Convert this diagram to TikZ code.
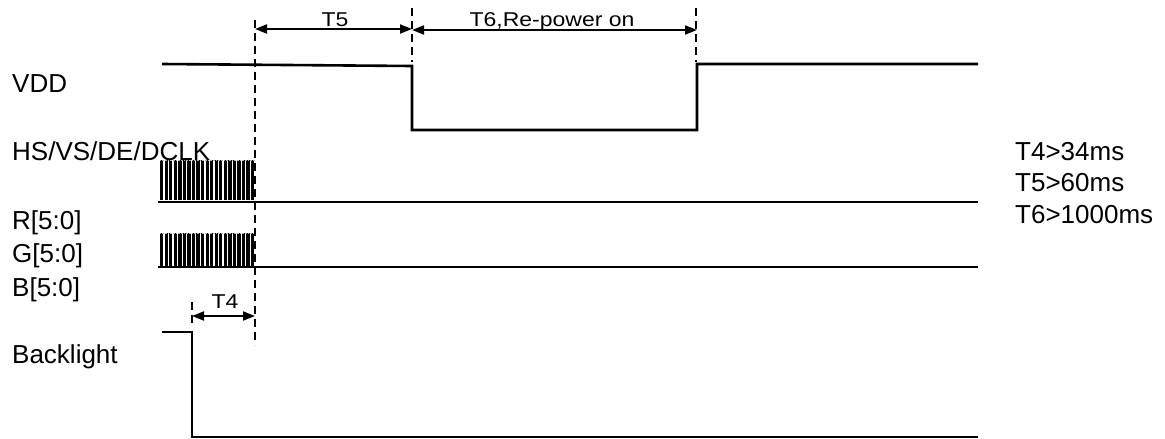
\documentclass[tikz,border=0pt]{standalone}
\usepackage{fontspec}
\setmainfont{Liberation Sans}
\usetikzlibrary{arrows.meta}
\begin{document}
\begin{tikzpicture}[x=1pt,y=-1pt,
  sig/.style={line width=2.6pt, line join=miter},
  guide/.style={line width=1.5pt, dash pattern=on 8pt off 5pt},
  dim/.style={line width=1.8pt, {Triangle[length=12pt,width=9pt]}-{Triangle[length=12pt,width=9pt]}},
  lbl/.style={anchor=base west, inner sep=0pt, font=\fontsize{26}{30}\selectfont},
  tlbl/.style={anchor=base, inner sep=0pt, font=\fontsize{20}{24}\selectfont, xscale=1.15},
  stripe/.style={fill=black, draw=none}]
\useasboundingbox (0,0) rectangle (1165,439);

% labels
\node[lbl] (vdd) at (12,92) {VDD};
\node[lbl] (hs) at (12,160) {HS/VS/DE/DCLK};
\node[lbl] (r) at (12,229) {R[5:0]};
\node[lbl] (g) at (12,262) {G[5:0]};
\node[lbl] (b) at (12,296) {B[5:0]};
\node[lbl] (bl) at (12,363) {Backlight};
\node[lbl] (c4) at (1015,160) {T4>34ms};
\node[lbl] (c5) at (1015,191) {T5>60ms};
\node[lbl] (c6) at (1015,223) {T6>1000ms};

% striped blocks
\foreach \i in {0,...,20} {
  \fill[stripe] (160+\i*4.55,160) rectangle ++(3.3,40);
  \fill[stripe] (160+\i*4.55,233) rectangle ++(3.3,34);
}
\draw[gray!60, line width=0.6pt, densely dotted] (160,160) -- (255,160);
\draw[gray!60, line width=0.6pt, densely dotted] (160,233) -- (255,233);

% signals
\draw[sig] (162,64) -- (412,66) -- (412,130) -- (697,130) -- (697,64) -- (978,64);
\draw[sig] (158,202) -- (978,202);
\draw[sig] (158,267) -- (978,267);
\draw[sig] (162,332) -- (192,332) -- (192,437) -- (978,437);

% guide lines
\coordinate (g1t) at (255,20);  \coordinate (g1b) at (255,345);
\coordinate (g2t) at (412,8);   \coordinate (g2b) at (412,62);
\coordinate (g3t) at (696,8);   \coordinate (g3b) at (696,62);
\coordinate (g4t) at (192,302); \coordinate (g4b) at (192,326);
\draw[guide] (g1t) -- (g1b);
\draw[guide] (g2t) -- (g2b);
\draw[guide] (g3t) -- (g3b);
\draw[guide] (g4t) -- (g4b);

% dimension arrows
\coordinate (a5l) at (255,29); \coordinate (a5r) at (412,29);
\coordinate (a6l) at (412,30); \coordinate (a6r) at (697,30);
\coordinate (a4l) at (192,316); \coordinate (a4r) at (255,316);
\draw[dim] (a5l) -- (a5r);
\draw[dim] (a6l) -- (a6r);
\draw[dim] (a4l) -- (a4r);
\node[tlbl] (t5) at (335,27) {T5};
\node[tlbl] (t6) at (552,27) {T6,Re-power on};
\node[tlbl] (t4) at (225,308) {T4};
\end{tikzpicture}
\end{document}
